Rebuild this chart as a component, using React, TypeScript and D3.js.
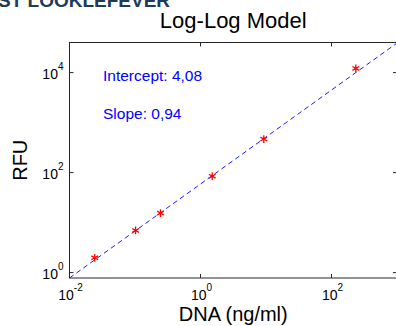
import React, { useEffect, useRef } from "react";
import * as d3 from "d3";

// measured points (DNA ng/ml vs RFU)
const dnaValues = [0.0243, 0.102, 0.245, 1.51, 9.25, 235];
const rfuValues = [1.98, 6.98, 15.5, 85, 468, 12100];

// fitted line end points
const fitX = [0.01, 1000];
const fitY = [0.78, 39000];

const xTicks = [1e-2, 1e0, 1e2];
const yTicks = [1e0, 1e2, 1e4];
const xTickExp = ["-2", "0", "2"];
const yTickExp = ["0", "2", "4"];

const annotations = ["Intercept: 4,08", "Slope: 0,94"];

const FONT = "'Liberation Sans', Arial, Helvetica, sans-serif";

const App = () => {
  const ref = useRef<HTMLDivElement>(null);

  useEffect(() => {
    const W = 396;
    const H = 326;
    const plot = { left: 69.5, right: 397, top: 42.5, bottom: 278 };

    const svg = d3
      .select(ref.current)
      .html("")
      .append("svg")
      .attr("width", W)
      .attr("height", H)
      .style("position", "absolute")
      .style("left", "0px")
      .style("top", "0px")
      .style("background", "#fff")
      .attr("font-family", FONT);

    const x = d3
      .scaleLog()
      .domain([0.01, 1000])
      .range([plot.left, plot.right]);
    const y = d3
      .scaleLog()
      .domain([0.78, 40000])
      .range([plot.bottom, plot.top]);

    // cropped heading from the page above the figure
    svg
      .append("text")
      .attr("x", -2)
      .attr("y", 7)
      .attr("font-size", "19px")
      .attr("font-weight", "bold")
      .attr("fill", "#1f3b57")
      .text("ST LOOKLEFEVER");

    svg
      .append("defs")
      .append("clipPath")
      .attr("id", "plotclip")
      .append("rect")
      .attr("x", plot.left)
      .attr("y", plot.top)
      .attr("width", plot.right - plot.left)
      .attr("height", plot.bottom - plot.top);

    const g = svg.append("g");

    // fit line
    const fitData = fitX.map((v, i) => [v, fitY[i]] as [number, number]);
    g.append("path")
      .datum(fitData)
      .attr("clip-path", "url(#plotclip)")
      .attr("fill", "none")
      .attr("stroke", "#0000ff")
      .attr("stroke-width", 0.9)
      .attr("stroke-dasharray", "5,3.5")
      .attr(
        "d",
        d3
          .line<[number, number]>()
          .x((d) => x(d[0]))
          .y((d) => y(d[1]))
      );

    // markers
    const star = d3.symbol().type(d3.symbolAsterisk).size(42);
    g.selectAll("path.pt")
      .data(dnaValues.map((v, i) => [v, rfuValues[i]]))
      .join("path")
      .attr("class", "pt")
      .attr("transform", (d) => `translate(${x(d[0])},${y(d[1])})`)
      .attr("d", star)
      .attr("fill", "none")
      .attr("stroke", "#ff0000")
      .attr("stroke-width", 1.3);

    // box
    const axisColor = "#262626";
    g.append("rect")
      .attr("x", plot.left)
      .attr("y", plot.top)
      .attr("width", plot.right - plot.left)
      .attr("height", plot.bottom - plot.top)
      .attr("fill", "none")
      .attr("stroke", axisColor)
      .attr("stroke-width", 1);

    const tl = 4;
    xTicks.forEach((t) => {
      const px = x(t);
      g.append("line")
        .attr("x1", px).attr("x2", px)
        .attr("y1", plot.bottom).attr("y2", plot.bottom - tl)
        .attr("stroke", axisColor);
      g.append("line")
        .attr("x1", px).attr("x2", px)
        .attr("y1", plot.top).attr("y2", plot.top + tl)
        .attr("stroke", axisColor);
    });
    yTicks.forEach((t) => {
      const py = y(t);
      g.append("line")
        .attr("x1", plot.left).attr("x2", plot.left + tl)
        .attr("y1", py).attr("y2", py)
        .attr("stroke", axisColor);
      g.append("line")
        .attr("x1", plot.right).attr("x2", plot.right - tl)
        .attr("y1", py).attr("y2", py)
        .attr("stroke", axisColor);
    });

    // x tick labels
    xTicks.forEach((t, i) => {
      const lab = svg
        .append("text")
        .attr("x", x(t) + 1)
        .attr("y", 300)
        .attr("text-anchor", "middle")
        .attr("font-size", "14px")
        .attr("fill", "#000");
      lab.append("tspan").text("10");
      lab
        .append("tspan")
        .attr("dy", -9)
        .attr("font-size", "10px")
        .text(xTickExp[i]);
    });

    // y tick labels
    yTicks.forEach((t, i) => {
      const lab = svg
        .append("text")
        .attr("x", plot.left - 6)
        .attr("y", y(t) + 6)
        .attr("text-anchor", "end")
        .attr("font-size", "14px")
        .attr("fill", "#000");
      lab.append("tspan").text("10");
      lab
        .append("tspan")
        .attr("dy", -9)
        .attr("font-size", "10px")
        .text(yTickExp[i]);
    });

    // title and axis labels
    const cx = (plot.left + plot.right) / 2;
    svg
      .append("text")
      .attr("x", cx)
      .attr("y", 28)
      .attr("text-anchor", "middle")
      .attr("font-size", "22px")
      .attr("fill", "#000")
      .text("Log-Log Model");

    svg
      .append("text")
      .attr("x", cx)
      .attr("y", 321)
      .attr("text-anchor", "middle")
      .attr("font-size", "20px")
      .attr("fill", "#000")
      .text("DNA (ng/ml)");

    svg
      .append("text")
      .attr("transform", `translate(27,${(plot.top + plot.bottom) / 2}) rotate(-90)`)
      .attr("text-anchor", "middle")
      .attr("font-size", "20px")
      .attr("fill", "#000")
      .text("RFU");

    // fit annotations
    annotations.forEach((a, i) => {
      svg
        .append("text")
        .attr("x", 103)
        .attr("y", 80.5 + i * 38.5)
        .attr("font-size", "15.5px")
        .attr("fill", "#0000ff")
        .text(a);
    });
  }, []);

  return <div ref={ref} />;
};

export default App;
